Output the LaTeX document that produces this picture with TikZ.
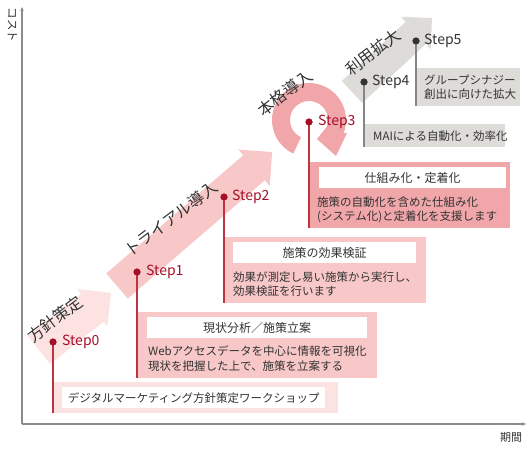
\documentclass[tikz,border=0pt]{standalone}
\usepackage{fontspec}
\setmainfont{Noto Sans CJK JP}
\usetikzlibrary{calc,arrows.meta}
\definecolor{pk0}{HTML}{FCE3E2}
\definecolor{pk1}{HTML}{F8C7C7}
\definecolor{pk3}{HTML}{F1A6AA}
\definecolor{grp}{HTML}{DDDCD8}
\definecolor{dred}{HTML}{A50F27}
\definecolor{lred}{HTML}{BF3340}
\definecolor{txt}{HTML}{333333}
\definecolor{axisc}{HTML}{8C8C88}
\definecolor{gline}{HTML}{858585}
\begin{document}
\begin{tikzpicture}[x=1pt,y=-1pt,
  panel/.style={draw=none,inner sep=0pt,anchor=north west},
  hdr/.style={fill=white,draw=none,inner sep=0pt,anchor=north west,font=\fontsize{12}{13}\selectfont,text=txt},
  body/.style={inner sep=0pt,anchor=north west,align=left,font=\fontsize{11.5}{14.5}\selectfont,text=txt},
  rdot/.style={circle,fill=dred,inner sep=0pt,minimum size=7pt},
  gdot/.style={circle,fill=txt,inner sep=0pt,minimum size=7pt},
  rline/.style={draw=lred,line width=1.5pt},
  gline/.style={draw=gline,line width=1.5pt},
  steplbl/.style={inner sep=0pt,anchor=west,font=\fontsize{14}{16}\selectfont},
  ttl/.style={inner sep=0pt,font=\fontsize{16}{18}\selectfont,text=txt,rotate=37},
  axl/.style={draw=axisc,line width=1.3pt,-{Stealth[length=4pt,width=3.5pt]}}
]
\useasboundingbox (0,0) rectangle (530,450);

% big arrows
\begin{scope}[shift={(39,350)},rotate=38.4]
\fill[pk0] (0,-18) -- (68,-18) -- (68,-24) -- (92,0) -- (68,24) -- (68,18) -- (0,18) -- cycle;
\end{scope}
\begin{scope}[shift={(117,286)},rotate=40.8]
\fill[pk1] (0,-16.5) -- (181,-16.5) -- (181,-24) -- (205,0) -- (181,24) -- (181,16.5) -- (0,16.5) -- cycle;
\end{scope}
\begin{scope}[shift={(352,92)},rotate=42.8]
\fill[grp] (0,-15) -- (87,-15) -- (87,-22) -- (109,0) -- (87,22) -- (87,15) -- (0,15) -- cycle;
\end{scope}

% ring arrow
\coordinate (C) at (309,120);
\fill[pk3] ($(C)+(245:37pt)$) arc[start angle=245,end angle=-21,radius=37pt]
  -- (347,133) -- (336,156) -- (317,139) -- ($(C)+(-21:19pt)$)
  arc[start angle=-21,end angle=245,radius=19pt] -- cycle;

% axes
\coordinate (O) at (22,424);
\coordinate (Yt) at (22,7);
\coordinate (Xe) at (526,424);
\draw[axl] (O) -- (Yt);
\draw[axl] (O) -- (Xe);
\node[inner sep=0pt,rotate=-90,font=\fontsize{11.5}{12}\selectfont,text=txt] (ylab) at (12.5,25) {コスト};
\node[inner sep=0pt,font=\fontsize{11}{12}\selectfont,text=txt] (xlab) at (511,437) {期間};

% titles
\node[ttl] (t0) at (55,319) {方針策定};
\node[ttl] (t1) at (171,219) {トライアル導入};
\node[ttl] (t3) at (285,93) {本格導入};
\node[ttl] (t4) at (373,52) {利用拡大};

% panels
\node[panel,fill=pk0,minimum width=285pt,minimum height=31pt] (p0) at (53,382) {};
\node[panel,fill=pk1,minimum width=240pt,minimum height=66pt] (p1) at (137,312) {};
\node[panel,fill=pk1,minimum width=202pt,minimum height=66pt] (p2) at (224,237) {};
\node[panel,fill=pk3,minimum width=201pt,minimum height=66pt] (p3) at (309,162) {};
\node[panel,fill=grp,minimum width=141pt,minimum height=23pt] (p4) at (364,124) {};
\node[panel,fill=grp,minimum width=104pt,minimum height=38pt] (p5) at (416,68) {};

% headers
\node[hdr,minimum width=263pt,minimum height=21pt,font=\fontsize{11.5}{13}\selectfont] (h0) at (62,387) {デジタルマーケティング方針策定ワークショップ};
\node[hdr,minimum width=220pt,minimum height=21pt] (h1) at (147,317) {現状分析／施策立案};
\node[hdr,minimum width=183pt,minimum height=21pt] (h2) at (233,242) {施策の効果検証};
\node[hdr,minimum width=187pt,minimum height=21pt] (h3) at (319,167) {仕組み化・定着化};

% body texts
\node[body] (b1) at (148,345.5) {Webアクセスデータを中心に情報を可視化\\現状を把握した上で、施策を立案する};
\node[body] (b2) at (233,271.5) {効果が測定し易い施策から実行し、\\効果検証を行います};
\node[body] (b3) at (317,196.5) {施策の自動化を含めた仕組み化\\(システム化)と定着化を支援します};
\node[body,anchor=west] (b4) at (373,136) {MAIによる自動化・効率化};
\node[body] (b5) at (424,74.5) {グループシナジー\\創出に向けた拡大};

% step dots
\node[rdot] (d0) at (53,342) {};
\node[rdot] (d1) at (137,272) {};
\node[rdot] (d2) at (224,197) {};
\node[rdot] (d3) at (309,122) {};
\node[gdot] (d4) at (364,82) {};
\node[gdot] (d5) at (416,41) {};

% connectors
\draw[rline] (d0.center) -- (p0.south west);
\draw[rline] (d1.center) -- (p1.south west);
\draw[rline] (d2.center) -- (p2.south west);
\draw[rline] (d3.center) -- (p3.south west);
\draw[gline] (d4.center) -- (p4.south west);
\draw[gline] (d5.center) -- (p5.south west);
\node[rdot] at (d0) {};
\node[rdot] at (d1) {};
\node[rdot] at (d2) {};
\node[rdot] at (d3) {};
\node[gdot] at (d4) {};
\node[gdot] at (d5) {};

% step labels
\node[steplbl,text=dred] (s0) at (62,342) {Step0};
\node[steplbl,text=dred] (s1) at (146,272) {Step1};
\node[steplbl,text=dred] (s2) at (232,197) {Step2};
\node[steplbl,text=dred] (s3) at (318,122) {Step3};
\node[steplbl,text=txt] (s4) at (372,82) {Step4};
\node[steplbl,text=txt] (s5) at (424,41) {Step5};
\end{tikzpicture}
\end{document}
